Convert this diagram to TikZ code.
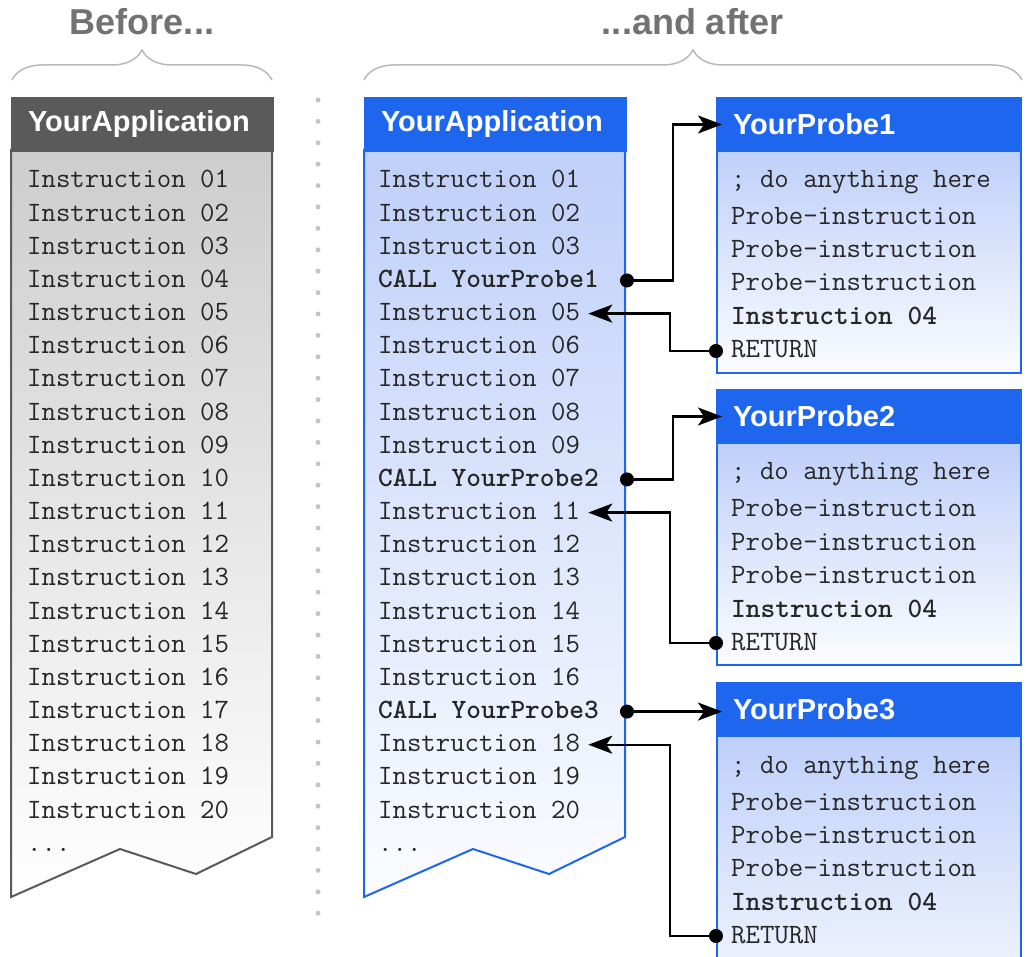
\documentclass[tikz,border=0pt]{standalone}
\usepackage{fontspec}
\setsansfont{Liberation Sans}
\usetikzlibrary{arrows.meta,positioning,decorations.pathreplacing}

\definecolor{hdblue}{HTML}{1F66EE}
\definecolor{hdgray}{HTML}{5A5A5A}
\definecolor{bodyblue}{HTML}{A0B9F6}
\definecolor{bodygray}{HTML}{B4B4B4}
\definecolor{titlegray}{HTML}{727272}
\definecolor{sepgray}{HTML}{C4C4C4}

\pgfdeclareverticalshading{grayfade}{100bp}{color(0bp)=(white); color(25bp)=(white); color(100bp)=(bodygray)}
\pgfdeclareverticalshading{bluefade}{100bp}{color(0bp)=(white); color(22bp)=(white); color(100bp)=(bodyblue)}

\begin{document}
\begin{tikzpicture}[x=1pt,y=-1pt,
  title/.style={text=titlegray, font=\sffamily\bfseries\fontsize{36}{40}\selectfont},
  brace/.style={draw=gray!55, line width=1.5pt, decorate, decoration={brace, amplitude=30pt}},
  head/.style={anchor=north west, minimum height=53pt, inner xsep=16pt, inner ysep=0pt,
    align=left, text=white, font=\sffamily\bfseries\fontsize{29}{32}\selectfont},
  codeline/.style={anchor=west, inner sep=2pt, text height=18pt, text depth=4pt,
    text=black!85, font=\ttfamily\fontsize{28}{30}\selectfont},
  boldline/.style={codeline, font=\ttfamily\bfseries\fontsize{28}{30}\selectfont},
  probebody/.style={draw=hdblue, line width=2pt, anchor=north west, minimum width=304pt,
    shading=bluefade},
  link/.style={draw, line width=2.4pt, {Circle[length=14pt]}-{Stealth[length=24pt,width=18pt,inset=6pt]}}]
\useasboundingbox (0,0) rectangle (1026,957);

% titles and braces
\node[title] (before) at (142,22) {Before...};
\node[title] (after) at (693,22) {...and after};
\draw[brace] (12,80) -- (272,80);
\draw[brace] (364,80) -- (1022,80);

% separator
\foreach \k in {0,...,38}
  \fill[sepgray] (318,{100+21.4*\k}) circle (2.5pt);

% application before
\shade[shading=grayfade] (11,150) -- (272,150) -- (272,837) -- (196,874) -- (120,849) -- (11,897) -- cycle;
\draw[hdgray, line width=2pt, line join=miter] (11,150) -- (272,150) -- (272,837) -- (196,874) -- (120,849) -- (11,897) -- cycle;
\node[head, fill=hdgray, draw=hdgray, line width=2pt, text width=229pt] (oldhd) at (11,97) {YourApplication};
\foreach \n [count=\i] in {01,02,03,04,05,06,07,08,09,10,11,12,13,14,15,16,17,18,19,20}
  \node[codeline] (old\n) at (25,{181+(\i-1)*33.16}) {Instruction \n};
\node[codeline] (olddots) at (25,{181+20*33.16}) {...};

% application after
\shade[shading=bluefade] (364,150) -- (625,150) -- (625,837) -- (549,874) -- (473,849) -- (364,897) -- cycle;
\draw[hdblue, line width=2pt, line join=miter] (364,150) -- (625,150) -- (625,837) -- (549,874) -- (473,849) -- (364,897) -- cycle;
\node[head, fill=hdblue, draw=hdblue, line width=2pt, text width=229pt] (newhd) at (364,97) {YourApplication};
\foreach \n/\i in {01/1,02/2,03/3,05/5,06/6,07/7,08/8,09/9,11/11,12/12,13/13,14/14,15/15,16/16,18/18,19/19,20/20}
  \node[codeline] (new\n) at (376,{181+(\i-1)*33.16}) {Instruction \n};
\node[boldline] (call1) at (376,{181+3*33.16}) {CALL YourProbe1};
\node[boldline] (call2) at (376,{181+9*33.16}) {CALL YourProbe2};
\node[boldline] (call3) at (376,{181+16*33.16}) {CALL YourProbe3};
\node[codeline] (newdots) at (376,{181+20*33.16}) {...};

% probes
\foreach \p/\h in {1/97,2/389,3/682}{
  \node[probebody, minimum height={\p==3 ? 300 : 222}] (body\p) at (716,\h+53) {};
  \node[head, fill=hdblue, draw=hdblue, line width=2pt, text width=272pt] (probe\p) at (716,\h) {YourProbe\p};
  \node[codeline] (any\p) at (729,\h+84) {; do anything here};
  \node[codeline] (pa\p) at (729,\h+121) {Probe-instruction};
  \node[codeline] (pb\p) at (729,\h+154) {Probe-instruction};
  \node[codeline] (pc\p) at (729,\h+187) {Probe-instruction};
  \node[boldline] (ins\p) at (729,\h+221) {Instruction 04};
  \node[codeline] (ret\p) at (729,\h+254) {RETURN};
}

% calls and returns
\draw[link] ([xshift=-7pt]call1.east -| newhd.east) -- ++(53,0) |- ([xshift=6pt]probe1.west);
\draw[link] ([xshift=7pt]ret1.west -| body1.west) -- ++(-53,0) |- ([xshift=6pt]new05.east);
\draw[link] ([xshift=-7pt]call2.east -| newhd.east) -- ++(53,0) |- ([xshift=6pt]probe2.west);
\draw[link] ([xshift=7pt]ret2.west -| body2.west) -- ++(-53,0) |- ([xshift=6pt]new11.east);
\draw[link] ([xshift=-7pt]call3.east -| newhd.east) -- ([xshift=6pt]call3.east -| probe3.west);
\draw[link] ([xshift=7pt]ret3.west -| body3.west) -- ++(-53,0) |- ([xshift=6pt]new18.east);
\end{tikzpicture}
\end{document}
